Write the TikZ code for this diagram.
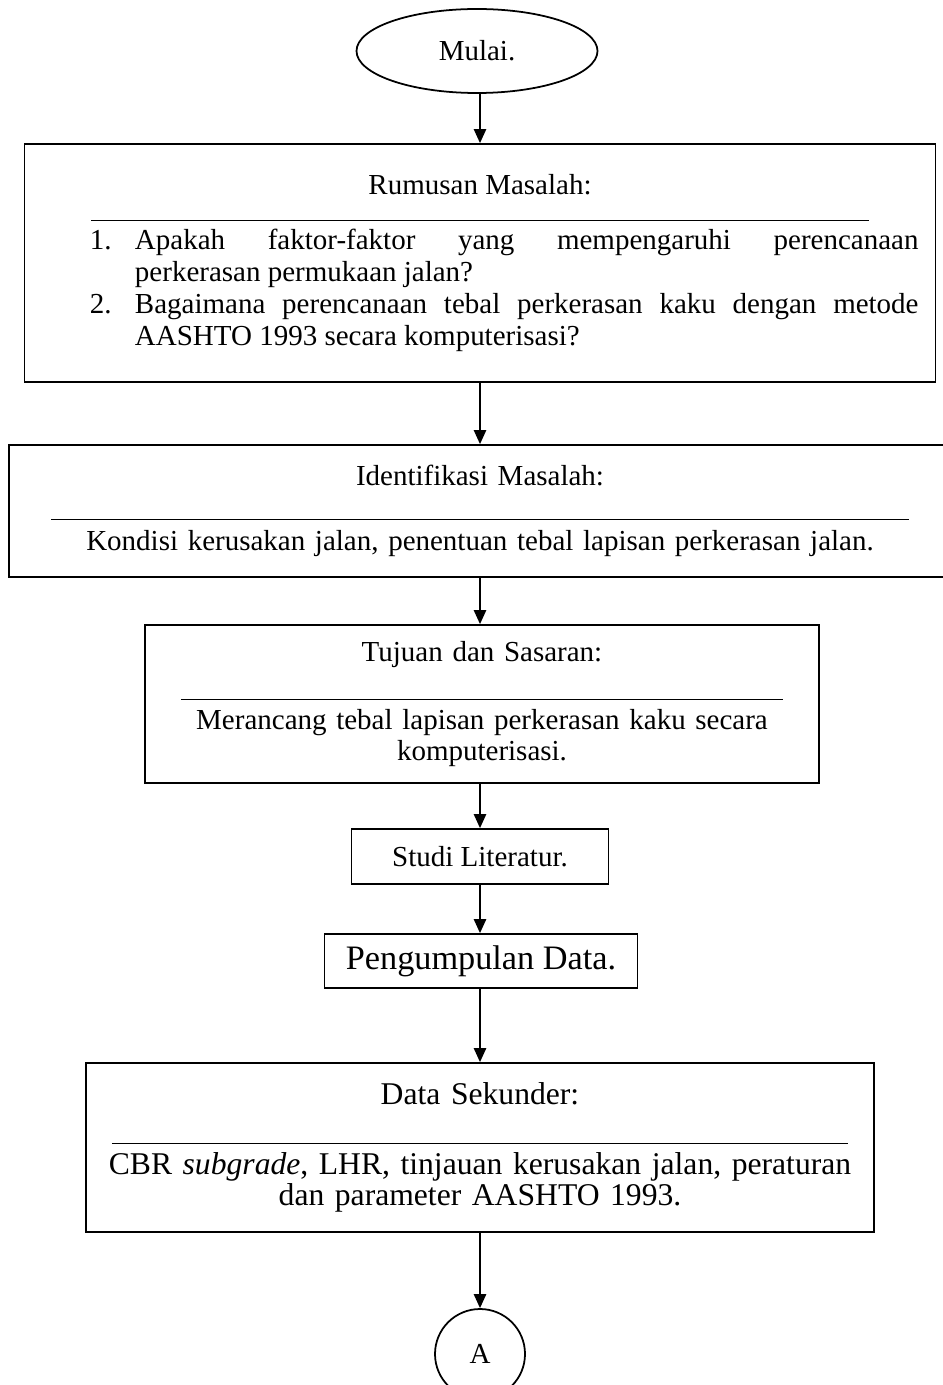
\documentclass[tikz,border=0pt]{standalone}
\usepackage{fontspec}
\setmainfont{Liberation Serif}
\usetikzlibrary{shapes.geometric,arrows.meta}

\tikzset{
  flowbox/.style={draw, line width=1pt, inner sep=0pt, align=center,
    font=\fontsize{16.5}{18.3}\selectfont},
  flowarrow/.style={line width=1pt, -{Triangle[length=8pt,width=7pt]}}
}

\begin{document}
\begin{tikzpicture}[x=0.2mm, y=-0.2mm]
  \useasboundingbox (0,0) rectangle (942,1385);

  \node[flowbox, ellipse, minimum width=48.2mm, minimum height=16.8mm] (mulai) at (477,51) {Mulai.};

  \node[flowbox, minimum width=182.2mm, minimum height=47.6mm, text width=175.4mm, align=justify] (rumusan) at (480,263) {%
    \makebox[\linewidth]{Rumusan Masalah:}\par\vspace{-3pt}
    \makebox[\linewidth]{\rule{155.4mm}{0.6pt}}\par\vspace{-2.4pt}
    \hangindent=18.7mm \hangafter=1
    \noindent\hspace*{9.7mm}\makebox[9mm][l]{1.}Apakah faktor-faktor yang mempengaruhi perencanaan\linebreak
    perkerasan permukaan jalan?\par
    \hangindent=18.7mm \hangafter=1
    \noindent\hspace*{9.7mm}\makebox[9mm][l]{2.}Bagaimana perencanaan tebal perkerasan kaku dengan metode\linebreak
    AASHTO 1993 secara komputerisasi?\par};

  \node[flowbox, minimum width=188.4mm, minimum height=26.4mm, text width=180mm] (identifikasi) at (480,511) {%
    Identifikasi Masalah:\\[1pt]
    \rule{171.4mm}{0.6pt}\\[-0.7pt]
    Kondisi kerusakan jalan, penentuan tebal lapisan perkerasan jalan.};

  \node[flowbox, minimum width=134.8mm, minimum height=31.6mm, text width=126mm] (tujuan) at (482,704) {%
    Tujuan dan Sasaran:\\[3.7pt]
    \rule{120.4mm}{0.6pt}\\[-1.3pt]
    Merancang tebal lapisan perkerasan kaku secara\\[-0.7pt]
    komputerisasi.};

  \node[flowbox, minimum width=51.4mm, minimum height=11mm] (studi) at (480,856.5) {Studi Literatur.};

  \node[flowbox, minimum width=62.6mm, minimum height=10.8mm, font=\fontsize{19.5}{22}\selectfont] (pengumpulan) at (481,961) {Pengumpulan Data.};

  \node[flowbox, minimum width=157.6mm, minimum height=33.8mm, text width=156mm, font=\fontsize{18}{18.1}\selectfont] (sekunder) at (480,1147.5) {%
    Data Sekunder:\\[4.6pt]
    \rule{147.2mm}{0.6pt}\\[-1.1pt]
    CBR \textit{subgrade}, LHR, tinjauan kerusakan jalan, peraturan\\
    dan parameter AASHTO 1993.};

  \node[flowbox, circle, minimum size=18mm] (konektor) at (480,1354) {A};

  \draw[flowarrow] (mulai.south -| rumusan) -- (rumusan);
  \draw[flowarrow] (rumusan) -- (identifikasi);
  \draw[flowarrow] (identifikasi) -- (identifikasi |- tujuan.north);
  \draw[flowarrow] (tujuan.south -| studi) -- (studi);
  \draw[flowarrow] (studi) -- (studi |- pengumpulan.north);
  \draw[flowarrow] (pengumpulan.south -| sekunder) -- (sekunder);
  \draw[flowarrow] (sekunder) -- (konektor);
\end{tikzpicture}
\end{document}
